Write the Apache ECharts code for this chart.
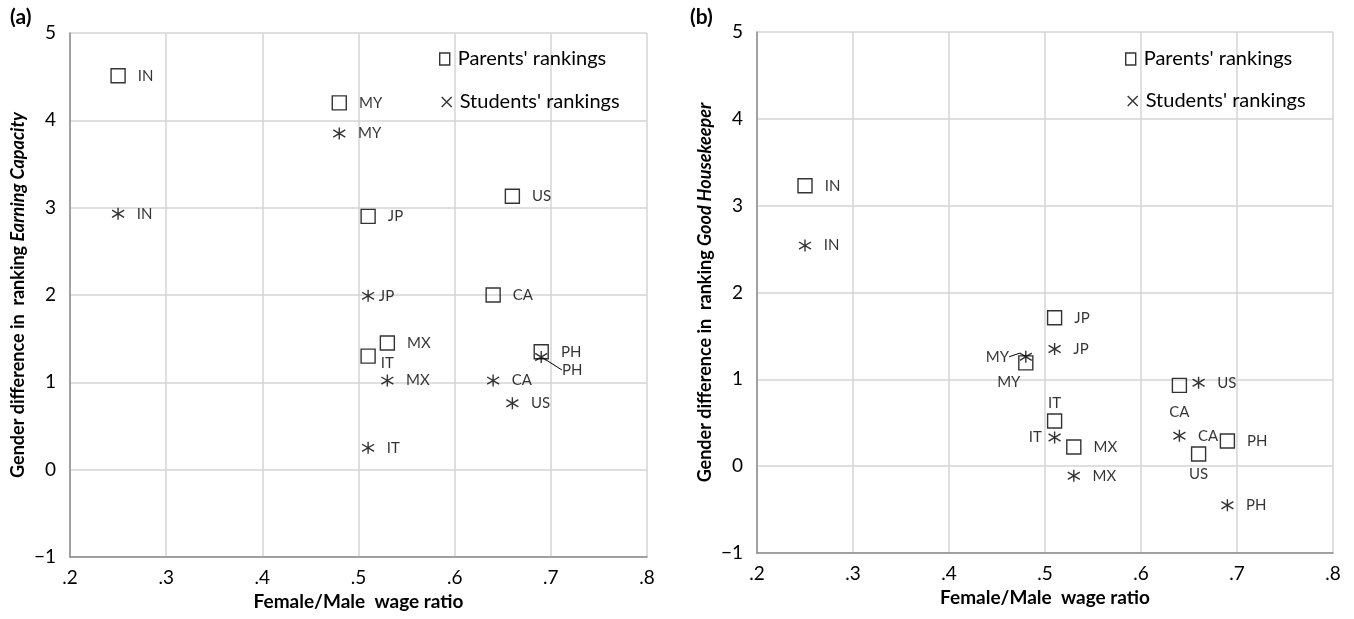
<!DOCTYPE html>
<html>
<head>
<meta charset="utf-8">
<script src="https://cdn.jsdelivr.net/npm/echarts@6/dist/echarts.min.js"></script>
<style>
html,body{margin:0;padding:0;background:#fff;}
#c{width:1354px;height:619px;}
</style>
</head>
<body>
<div id="c"></div>
<script>
// ---------- data ----------
const countries = ['IN', 'MY', 'JP', 'US', 'CA', 'MX', 'IT', 'PH'];
const wageRatio = [0.25, 0.48, 0.51, 0.66, 0.64, 0.53, 0.51, 0.69];
const earnParents = [4.51, 4.20, 2.90, 3.13, 2.00, 1.45, 1.30, 1.35];
const earnStudents = [2.93, 3.85, 1.99, 0.76, 1.02, 1.02, 0.25, 1.29];
const houseParents = [3.23, 1.19, 1.71, 0.14, 0.93, 0.22, 0.52, 0.29];
const houseStudents = [2.54, 1.26, 1.35, 0.96, 0.35, -0.11, 0.33, -0.45];
const xTickLabels = ['.2', '.3', '.4', '.5', '.6', '.7', '.8'];
const yTickLabels = ['\u22121', '0', '1', '2', '3', '4', '5'];
const seriesNames = ["Parents' rankings", "Students' rankings"];
const panelTags = ['(a)', '(b)'];
const yTitleMain = ['Gender difference in  ranking ', 'Gender difference in  ranking '];
const yTitleItalic = ['Earning Capacity', 'Good Housekeeper'];
const xTitle = 'Female/Male  wage ratio';

// ---------- label placement (layout only) ----------
const R = {position: 'right', distance: 12};
const labelsAP = {IT: {position: 'right', distance: 5, offset: [0, 7]}};
const labelsAS = {JP: {position: 'right', distance: 4, offset: [0, -8]}};
const leaderAS = {PH: {dx: 2, dy: 13}};
const labelsBP = {
  MY: {position: 'bottom', distance: 4, offset: [-17, 0]},
  IT: {position: 'top', distance: 3},
  CA: {position: 'bottom', distance: 12},
  US: {position: 'bottom', distance: 5}
};
const labelsBS = {
  MY: {position: 'left', distance: 7},
  IT: {position: 'left', distance: 6}
};
const leaderBS = {MY: {dx: -3, dy: 0}};

const FONT = 'Lato';
const TXT = '#000';
const STAR = 'path://M0,-6L0,6M-5.2,-3.6L5.2,3.6M-5.2,3.6L5.2,-3.6';
const XICON = 'path://M-5,-5L5,5M-5,5L5,-5';

function makeData(vals, labelMap, leaderMap) {
  return countries.map((c, i) => {
    const lab = Object.assign({}, R, labelMap[c] || {});
    const item = {name: c, value: [wageRatio[i], vals[i]], label: lab};
    if (leaderMap && leaderMap[c]) {
      item.labelLine = {show: true, lineStyle: {color: '#000', width: 1}};
    }
    return item;
  });
}

function layoutFn(leaderMap) {
  return function (p) {
    const c = countries[p.dataIndex];
    if (leaderMap && leaderMap[c]) return leaderMap[c];
    return {};
  };
}

const labelBase = {show: true, formatter: '{b}', color: TXT, fontFamily: FONT, fontSize: 15};

function xAxis(gi) {
  return {
    type: 'value', gridIndex: gi, min: 0.2, max: 0.8, interval: 0.1,
    axisLine: {show: true, onZero: false, lineStyle: {color: '#8c8c8c', width: 1.5}},
    axisTick: {show: false},
    splitLine: {show: true, lineStyle: {color: '#d4d4d4', width: 1.5}},
    axisLabel: {
      color: TXT, fontFamily: FONT, fontSize: 19, margin: 11,
      formatter: v => xTickLabels[Math.round((v - 0.2) * 10)]
    },
    name: xTitle, nameLocation: 'middle', nameGap: 34,
    nameTextStyle: {color: TXT, fontFamily: FONT, fontSize: 19, fontWeight: 'bold'}
  };
}
function yAxis(gi) {
  return {
    type: 'value', gridIndex: gi, min: -1, max: 5, interval: 1,
    axisLine: {show: true, onZero: false, lineStyle: {color: '#8c8c8c', width: 1.5}},
    axisTick: {show: false},
    splitLine: {show: true, lineStyle: {color: '#d4d4d4', width: 1.5}},
    axisLabel: {
      color: TXT, fontFamily: FONT, fontSize: 19, margin: 14,
      formatter: v => yTickLabels[Math.round(v + 1)]
    },
    name: '{n|' + yTitleMain[gi] + '}{i|' + yTitleItalic[gi] + '}',
    nameLocation: 'middle', nameGap: 43,
    nameTextStyle: {
      rich: {
        n: {color: TXT, fontFamily: FONT, fontSize: 18, fontWeight: 'bold'},
        i: {color: TXT, fontFamily: FONT, fontSize: 18, fontWeight: 'bold', fontStyle: 'italic'}
      }
    }
  };
}

function legend(name, icon, left, top, iw, ih, style) {
  return {
    data: [{name: name, icon: icon, itemStyle: style}],
    left: left, top: top, itemWidth: iw, itemHeight: ih, padding: 0,
    selectedMode: false,
    textStyle: {color: TXT, fontFamily: FONT, fontSize: 20, padding: [0, 0, 0, 3]}
  };
}
const sqStyle = {color: 'rgba(255,255,255,0)', borderColor: '#000', borderWidth: 1.4};
const stStyle = {color: 'rgba(0,0,0,0)', borderColor: '#000', borderWidth: 1.4};

const option = {
  backgroundColor: '#fff',
  animation: false,
  title: [
    {text: panelTags[0], left: 5, top: 2, textStyle: {fontFamily: FONT, fontSize: 21, fontWeight: 'bold', color: TXT}},
    {text: panelTags[1], left: 685, top: 2, textStyle: {fontFamily: FONT, fontSize: 21, fontWeight: 'bold', color: TXT}}
  ],
  grid: [
    {left: 70, top: 33, width: 577, height: 524},
    {left: 757, top: 32, width: 576, height: 521}
  ],
  xAxis: [xAxis(0), xAxis(1)],
  yAxis: [yAxis(0), yAxis(1)],
  legend: [
    legend(seriesNames[0], 'rect', 439, 49, 10, 12, sqStyle),
    legend(seriesNames[1], XICON, 441, 92, 10, 10, stStyle),
    legend(seriesNames[0], 'rect', 1125, 49, 10, 12, sqStyle),
    legend(seriesNames[1], XICON, 1127, 91, 10, 10, stStyle)
  ],
  series: [
    {
      name: seriesNames[0], type: 'scatter', xAxisIndex: 0, yAxisIndex: 0,
      symbol: 'rect', symbolSize: 14, itemStyle: sqStyle, label: labelBase,
      data: makeData(earnParents, labelsAP)
    },
    {
      name: seriesNames[1], type: 'scatter', xAxisIndex: 0, yAxisIndex: 0,
      symbol: STAR, symbolSize: 12, itemStyle: stStyle, label: labelBase,
      labelLayout: layoutFn(leaderAS),
      data: makeData(earnStudents, labelsAS, leaderAS)
    },
    {
      name: seriesNames[0], type: 'scatter', xAxisIndex: 1, yAxisIndex: 1,
      symbol: 'rect', symbolSize: 14, itemStyle: sqStyle, label: labelBase,
      data: makeData(houseParents, labelsBP)
    },
    {
      name: seriesNames[1], type: 'scatter', xAxisIndex: 1, yAxisIndex: 1,
      symbol: STAR, symbolSize: 12, itemStyle: stStyle, label: labelBase,
      labelLayout: layoutFn(leaderBS),
      data: makeData(houseStudents, labelsBS, leaderBS)
    }
  ]
};

const chart = echarts.init(document.getElementById('c'), null, {renderer: 'canvas'});
chart.setOption(option);
</script>
</body>
</html>
